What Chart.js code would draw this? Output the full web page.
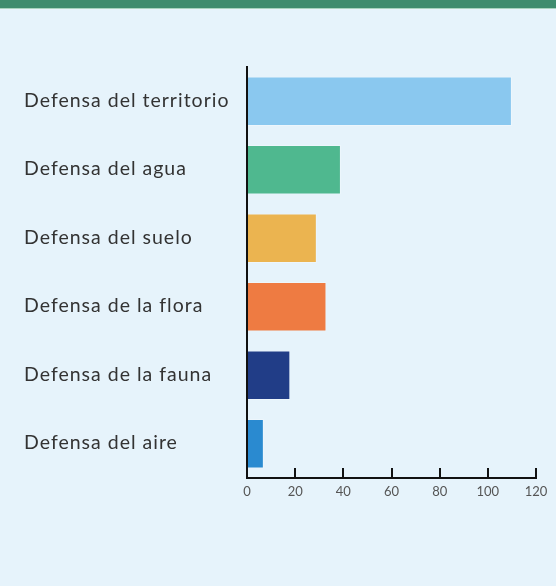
<!DOCTYPE html>
<html>
<head>
<meta charset="utf-8">
<script src="https://cdn.jsdelivr.net/npm/chart.js@4/dist/chart.umd.min.js"></script>
<style>
  html, body { margin: 0; padding: 0; background: #E6F3FB; width: 556px; height: 586px; overflow: hidden; }
  #band { position: absolute; left: 0; top: 0; width: 556px; height: 8px; background: #3E8C6E; border-bottom: 1px solid #A7D3BE; }
  #c { position: absolute; left: 0; top: 0; }
</style>
</head>
<body>
<canvas id="c" width="556" height="586"></canvas>
<div id="band"></div>
<script>
const categories = [
  "Defensa del territorio",
  "Defensa del agua",
  "Defensa del suelo",
  "Defensa de la flora",
  "Defensa de la fauna",
  "Defensa del aire"
];
const values = [110, 39, 29, 33, 18, 7];
const barColors = ["#8AC8EF", "#4FB88F", "#EBB450", "#EE7B42", "#213D87", "#2A8AD0"];
const xTicks = [0, 20, 40, 60, 80, 100, 120];

const spacedLabels = {
  id: 'spacedLabels',
  afterLayout(chart) {
    const s = chart.scales.y;
    if (s && !s._spaced) {
      const orig = s.drawLabels.bind(s);
      s.drawLabels = function (area) {
        const ctx = this.ctx;
        const prev = ctx.letterSpacing;
        ctx.letterSpacing = '1px';
        orig(area);
        ctx.letterSpacing = prev || '0px';
      };
      s._spaced = true;
    }
  }
};

new Chart(document.getElementById('c'), {
  type: 'bar',
  data: {
    labels: categories,
    datasets: [{
      data: values,
      backgroundColor: barColors,
      borderColor: 'rgba(255,255,255,0.3)',
      borderWidth: 1,
      borderSkipped: 'left',
      categoryPercentage: 1,
      barPercentage: 0.725
    }]
  },
  plugins: [spacedLabels],
  options: {
    indexAxis: 'y',
    responsive: false,
    animation: false,
    devicePixelRatio: 1,
    layout: { padding: { left: 24, top: 67, right: 0, bottom: 0 } },
    plugins: { legend: { display: false }, tooltip: { enabled: false } },
    scales: {
      x: {
        min: 0, max: 120,
        afterBuildTicks: (s) => { s.ticks = xTicks.map(v => ({ value: v })); },
        afterFit: (s) => { s.height = 108; s.paddingRight = 20; s.paddingLeft = 0; },
        border: { display: true, color: '#111', width: 2 },
        grid: { display: true, drawOnChartArea: false, drawTicks: true, tickLength: -10, color: '#111', lineWidth: 2 },
        ticks: { padding: 16, color: '#555', font: { family: 'Lato', size: 13 } }
      },
      y: {
        afterFit: (s) => { s.width = 223; },
        border: { display: true, color: '#111', width: 2 },
        grid: { display: false, drawTicks: false },
        ticks: { crossAlign: 'far', color: '#333', padding: 0, labelOffset: -1, font: { family: 'Lato', size: 19.5 } }
      }
    }
  }
});
</script>
</body>
</html>
